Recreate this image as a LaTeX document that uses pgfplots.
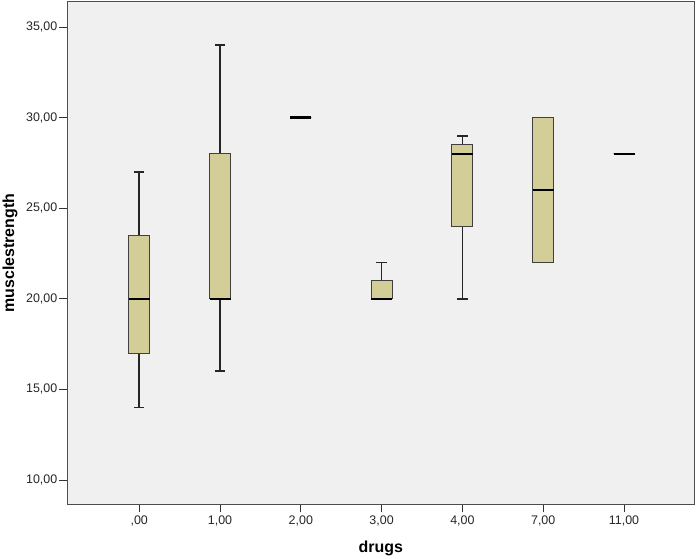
\documentclass[border=0pt]{standalone}
\usepackage{fontspec}
\setmainfont{Liberation Sans}
\usepackage{pgfplots}
\pgfplotsset{compat=1.18}
\usepgfplotslibrary{statistics}
\definecolor{boxfill}{RGB}{211,206,152}
\definecolor{plotbg}{RGB}{240,240,240}
\begin{document}
\begin{tikzpicture}
\path[use as bounding box, fill=white] (-67.3bp,-54.7bp) rectangle (631.7bp,504.3bp);
\begin{axis}[
  at={(0,0)}, anchor=south west,
  width=627bp, height=502.3bp, scale only axis,
  xmin=-0.89, xmax=6.87, ymin=8.66, ymax=36.38,
  xtick={0,1,2,3,4,5,6},
  xticklabels={{,00},{1,00},{2,00},{3,00},{4,00},{7,00},{11,00}},
  ytick={10,15,20,25,30,35},
  yticklabels={{10,00},{15,00},{20,00},{25,00},{30,00},{35,00}},
  tick pos=left, tick align=outside, major tick length=8bp,
  tick style={black!80, line width=1pt},
  axis background/.style={fill=plotbg},
  axis line style={black!70, line width=1pt},
  ticklabel style={font=\fontsize{12.5}{14}\selectfont, text=black!85},
  yticklabel style={xshift=1.5bp},
  xlabel={drugs}, ylabel={musclestrength},
  label style={font=\fontsize{16}{18}\selectfont\bfseries, text=black},
  xlabel style={at={(axis description cs:0.5,0)}, anchor=center, yshift=-43.7bp},
  ylabel style={at={(axis description cs:0,0.5)}, anchor=center, yshift=57.3bp},
  boxplot/draw direction=y,
  boxplot/box extend=0.26,
  boxplot/whisker extend=0.13,
  boxplot/every box/.style={draw=black!75, line width=1pt, fill=boxfill},
  boxplot/every whisker/.style={draw=black!85, line width=1.6pt},
  boxplot/every median/.style={draw=black, line width=2.4pt},
]
\addplot+[solid, mark=none, boxplot prepared={lower whisker=14, lower quartile=17, median=20, upper quartile=23.5, upper whisker=27, draw position=0}] coordinates {};
\addplot+[solid, mark=none, boxplot prepared={lower whisker=16, lower quartile=20, median=20, upper quartile=28, upper whisker=34, draw position=1}] coordinates {};
\addplot+[solid, mark=none, boxplot prepared={lower whisker=30, lower quartile=30, median=30, upper quartile=30, upper whisker=30, draw position=2}] coordinates {};
\addplot+[solid, mark=none, boxplot prepared={lower whisker=20, lower quartile=20, median=20, upper quartile=21, upper whisker=22, draw position=3}] coordinates {};
\addplot+[solid, mark=none, boxplot prepared={lower whisker=20, lower quartile=24, median=28, upper quartile=28.5, upper whisker=29, draw position=4}] coordinates {};
\addplot+[solid, mark=none, boxplot prepared={lower whisker=22, lower quartile=22, median=26, upper quartile=30, upper whisker=30, draw position=5}] coordinates {};
\addplot+[solid, mark=none, boxplot prepared={lower whisker=28, lower quartile=28, median=28, upper quartile=28, upper whisker=28, draw position=6}] coordinates {};
\end{axis}
\end{tikzpicture}
\end{document}
